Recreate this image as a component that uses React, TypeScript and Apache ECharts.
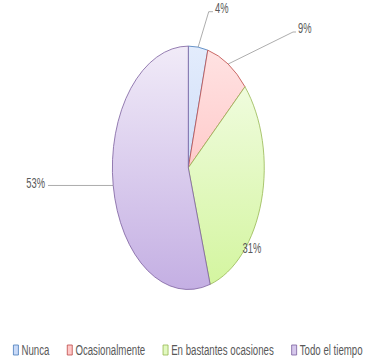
import React, { useEffect, useRef } from 'react';
import * as echarts from 'echarts';

const categories = ['Nunca', 'Ocasionalmente', 'En bastantes ocasiones', 'Todo el tiempo'];
const values = [4, 9, 31, 53];
const percentLabels = ['4%', '9%', '31%', '53%'];

const fillTop = ['#e3ecfc', '#ffe3e3', '#f5fdea', '#f1ebf8'];
const fillBottom = ['#bcd1f5', '#ffb3b3', '#d3f59e', '#c4afe3'];
const legendFill = ['#c9daf8', '#ffc8c8', '#e2f9c0', '#d6c8ec'];
const borderColors = ['#4a7ebb', '#be4b48', '#98b954', '#7d60a0'];

const SCALE = 0.624;
const W = 365 / SCALE;
const H = 362;
const CX = 301.8;
const CY = 167.8;
const R = 121.7;
const FONT = '"Liberation Sans", Arial, sans-serif';

type Placement = {
  x: number;
  y: number;
  align: string;
  elbow?: number[];
  end?: number[];
  horizontalTo?: number;
};

const labelPlacement: Placement[] = [
  { elbow: [334.5, 11.7], end: [341.3, 11.7], x: 344.6, y: 8, align: 'left' },
  { elbow: [469.6, 32], end: [474.4, 32], x: 477.6, y: 28, align: 'left' },
  { x: 403.8, y: 248, align: 'center' },
  { horizontalTo: 76.9, x: 72.1, y: 183, align: 'right' },
];

export default function App() {
  const ref = useRef<HTMLDivElement>(null);

  useEffect(() => {
    if (!ref.current) return;
    const chart = echarts.init(ref.current, undefined, { renderer: 'svg' });
    const data = values.map((v, i) => ({
      name: categories[i],
      value: v,
      itemStyle: {
        color: new echarts.graphic.LinearGradient(
          0, CY - R, 0, CY + R,
          [
            { offset: 0, color: fillTop[i] },
            { offset: 1, color: fillBottom[i] },
          ],
          true
        ),
        borderColor: borderColors[i],
        borderWidth: 1,
      },
      labelLine: { show: i !== 2 },
    }));

    chart.setOption({
      animation: false,
      backgroundColor: '#ffffff',
      legend: {
        left: 16,
        top: 336,
        width: 2000,
        orient: 'horizontal',
        icon: 'rect',
        itemWidth: 8,
        itemHeight: 10,
        itemGap: 28,
        selectedMode: false,
        textStyle: { fontFamily: FONT, fontSize: 15.5, color: '#595959', lineHeight: 18 },
        data: categories.map((c, i) => ({
          name: c,
          itemStyle: { color: legendFill[i], borderColor: borderColors[i], borderWidth: 1 },
        })),
      },
      series: [
        {
          type: 'pie',
          silent: true,
          center: [CX, CY],
          radius: [0, R],
          startAngle: 90,
          clockwise: true,
          avoidLabelOverlap: false,
          label: {
            show: true,
            position: 'outside',
            formatter: (p: any) => percentLabels[p.dataIndex],
            fontFamily: FONT,
            fontSize: 15,
            color: '#595959',
          },
          labelLine: {
            show: true,
            length: 20,
            length2: 10,
            lineStyle: { color: '#9a9a9a', width: 1 },
          },
          labelLayout: (params: any) => {
            const p = labelPlacement[params.dataIndex];
            const res: any = { x: p.x, y: p.y, align: p.align, verticalAlign: 'middle' };
            const start = params.labelLinePoints ? params.labelLinePoints[0] : null;
            if (start && p.elbow && p.end) {
              res.labelLinePoints = [start, p.elbow, p.end];
            } else if (start && p.horizontalTo != null) {
              res.labelLinePoints = [start, [p.horizontalTo, start[1]], [p.horizontalTo, start[1]]];
            }
            return res;
          },
          data,
        },
      ],
    });
    return () => chart.dispose();
  }, []);

  return (
    <div
      style={{
        position: 'fixed',
        left: 0,
        top: 0,
        width: 365,
        height: H,
        overflow: 'hidden',
        background: '#fff',
      }}
    >
      <div
        ref={ref}
        style={{
          width: W,
          height: H,
          transform: `scaleX(${SCALE})`,
          transformOrigin: '0 0',
        }}
      />
    </div>
  );
}
